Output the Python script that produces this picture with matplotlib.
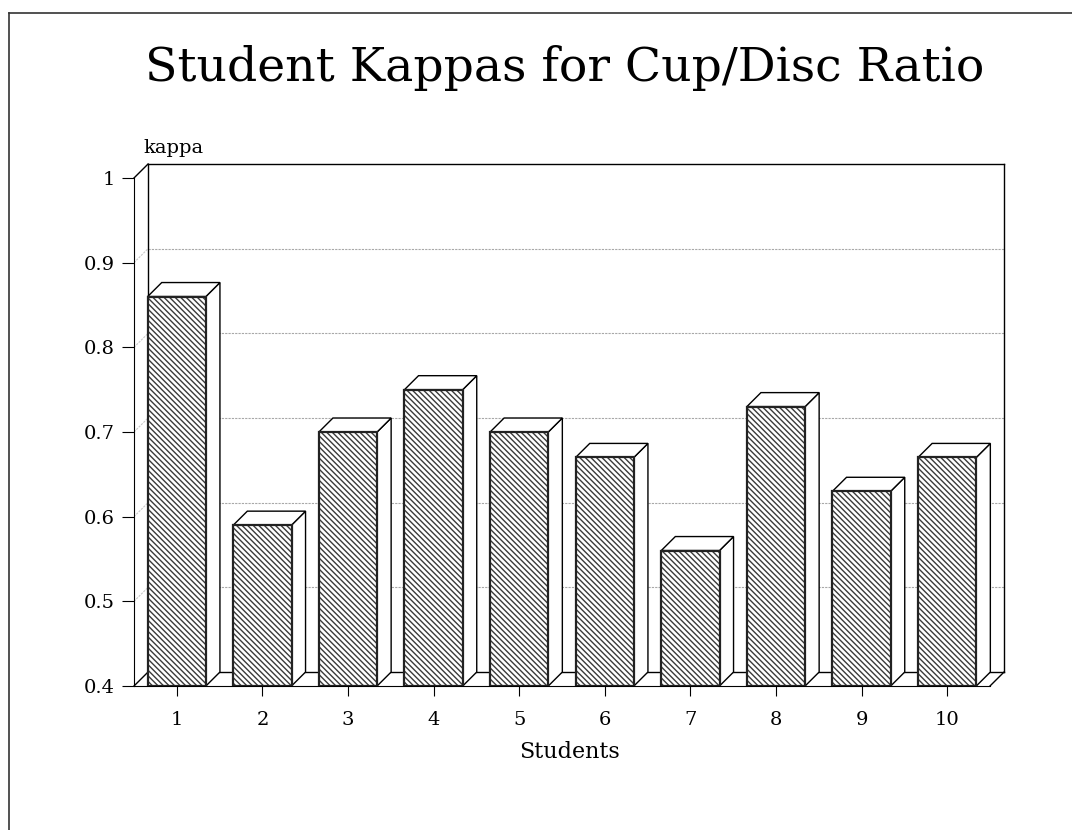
import matplotlib
matplotlib.use("Agg")
import matplotlib.pyplot as plt
from matplotlib.patches import Polygon, Rectangle

students = [1, 2, 3, 4, 5, 6, 7, 8, 9, 10]
kappas = [0.86, 0.59, 0.70, 0.75, 0.70, 0.67, 0.56, 0.73, 0.63, 0.67]
y_ticks = [0.4, 0.5, 0.6, 0.7, 0.8, 0.9, 1.0]
y_labels = ["0.4", "0.5", "0.6", "0.7", "0.8", "0.9", "1"]

plt.rcParams['font.family'] = ['DejaVu Serif']
plt.rcParams['hatch.linewidth'] = 1.0

fig = plt.figure(figsize=(10.72, 8.30), dpi=100)
ax = fig.add_axes([0.125, 0.1735, 0.8116, 0.6289])

# depth offset of the fake 3d, in data units
dx = 0.164
dy = 0.0165
y0, y1 = 0.4, 1.0
x0, x1 = 0.5, 10.5
w = 0.34

ax.set_xlim(x0, x1 + dx)
ax.set_ylim(y0, y1 + dy)

# back wall, left wall and floor edges
edge = dict(color='black', lw=1.0, zorder=2, clip_on=False)
ax.plot([x0 + dx, x1 + dx], [y1 + dy, y1 + dy], **edge)
ax.plot([x0 + dx, x0 + dx], [y0 + dy, y1 + dy], **edge)
ax.plot([x1 + dx, x1 + dx], [y0 + dy, y1 + dy], **edge)
ax.plot([x0, x0 + dx], [y1, y1 + dy], **edge)
ax.plot([x0 + dx, x1 + dx], [y0 + dy, y0 + dy], **edge)
ax.plot([x0, x0 + dx], [y0, y0 + dy], **edge)
ax.plot([x1, x1 + dx], [y0, y0 + dy], **edge)

# grid lines on the back wall + diagonals on the left wall
for t in y_ticks[1:-1]:
    ax.plot([x0 + dx, x1 + dx], [t + dy, t + dy], color='#a8a8a8', lw=0.8,
            ls=(0, (2, 1)), zorder=1)
    ax.plot([x0, x0 + dx], [t, t + dy], color='#c8c8c8', lw=0.8,
            ls=(0, (2, 1)), zorder=1)

for s, v in zip(students, kappas):
    # side face
    ax.add_patch(Polygon([(s + w, y0), (s + w + dx, y0 + dy), (s + w + dx, v + dy), (s + w, v)],
                         closed=True, facecolor='white', edgecolor='black', lw=1.0, zorder=3))
    # top face
    ax.add_patch(Polygon([(s - w, v), (s + w, v), (s + w + dx, v + dy), (s - w + dx, v + dy)],
                         closed=True, facecolor='white', edgecolor='black', lw=1.0, zorder=3))
    # front face, hatched
    ax.add_patch(Rectangle((s - w, y0), 2 * w, v - y0, facecolor='white',
                           edgecolor='#3a3a3a', hatch='\\' * 6, lw=0, zorder=4))
    ax.add_patch(Rectangle((s - w, y0), 2 * w, v - y0, facecolor='none',
                           edgecolor='#222222', lw=1.6, zorder=5))

for side in ['top', 'right']:
    ax.spines[side].set_visible(False)
ax.spines['left'].set_bounds(y0, y1)
ax.spines['bottom'].set_bounds(x0, x1)
ax.spines['left'].set_zorder(6)
ax.spines['bottom'].set_zorder(6)

ax.set_yticks(y_ticks)
ax.set_yticklabels(y_labels)
ax.set_xticks(students)
ax.set_xticklabels([str(s) for s in students])
ax.tick_params(axis='y', direction='out', length=9, width=0.8, pad=5, labelsize=14)
ax.tick_params(axis='x', direction='out', length=7, width=0.8, pad=11, labelsize=14)
ax.set_xlabel("Students", fontsize=16, labelpad=9)

fig.text(143 / 1072, 1 - 148 / 830, "kappa", fontsize=14, ha='left', va='center')
fig.text(565 / 1072, 1 - 68 / 830, "Student Kappas for Cup/Disc Ratio", fontsize=34,
         ha='center', va='center')

# outer frame (left and top only visible)
fig.add_artist(plt.Line2D([9 / 1072, 9 / 1072], [0, 1 - 13 / 830], color='#333333', lw=1.2))
fig.add_artist(plt.Line2D([9 / 1072, 1], [1 - 13 / 830, 1 - 13 / 830], color='#333333', lw=1.2))

fig.savefig("out.png", dpi=100)
